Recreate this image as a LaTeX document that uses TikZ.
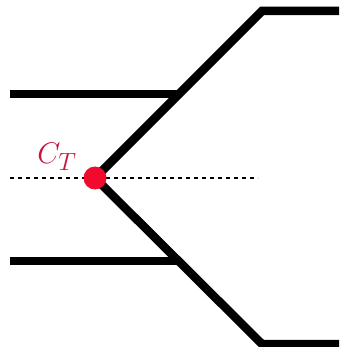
\documentclass[tikz,border=0pt]{standalone}
\usepackage{amsmath}
\usetikzlibrary{positioning}
\definecolor{tipred}{RGB}{240,10,45}
\definecolor{labelred}{RGB}{200,20,60}

\begin{document}
\begin{tikzpicture}[x=1pt,y=-1pt]
    \useasboundingbox (0,0) rectangle (339,347);
    % Key points
    \coordinate (tip) at (95,178);
    \coordinate (topkink) at (262,11);
    \coordinate (botkink) at (262,344);
    \coordinate (topend) at (339,11);
    \coordinate (botend) at (339,344);
    \coordinate (upL) at (10,94);
    \coordinate (upR) at (179,94);
    \coordinate (loL) at (10,261);
    \coordinate (loR) at (179,261);
    \coordinate (axisL) at (10,178);
    \coordinate (axisR) at (258,178);

    % Axis
    \draw[line width=2pt, dash pattern=on 4pt off 4pt] (axisL) -- (axisR);

    % Wedge and walls
    \draw[line width=8.5pt, miter limit=4] (topend) -- (topkink) -- (tip) -- (botkink) -- (botend);
    \draw[line width=8.5pt] (upL) -- (upR);
    \draw[line width=8.5pt] (loL) -- (loR);

    % Tip point and label
    \fill[tipred] (tip) circle (11.5);
    \node[labelred, font=\Huge, scale=1.2] (ct) at (57,157) {$C_T$};
\end{tikzpicture}
\end{document}
